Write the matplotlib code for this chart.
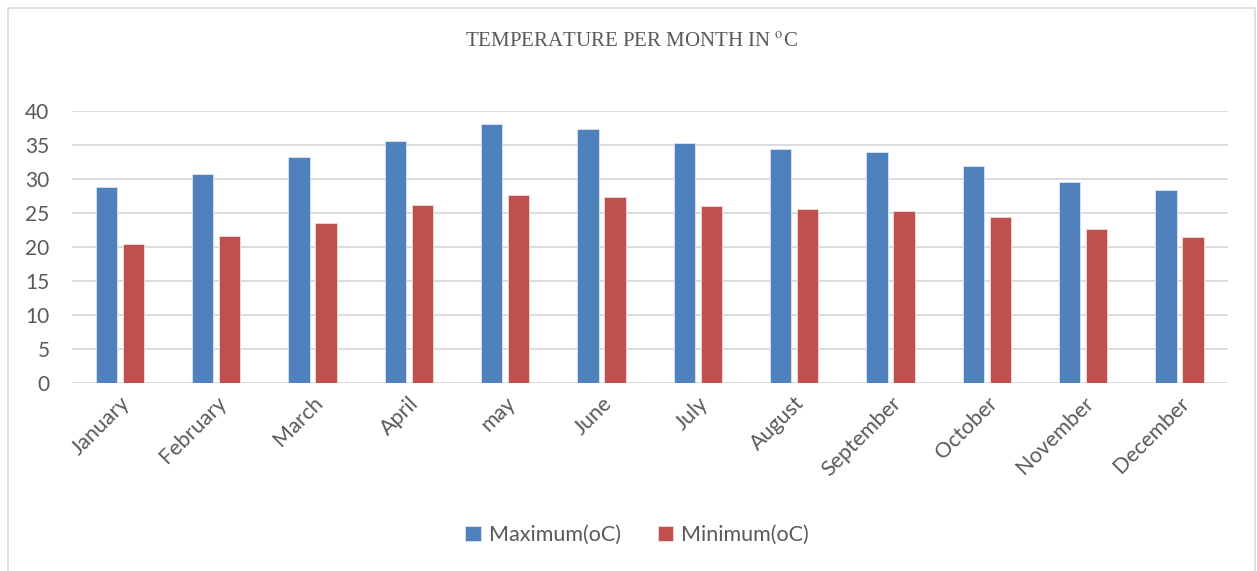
import matplotlib.pyplot as plt
import numpy as np
from matplotlib.patches import Rectangle

# data
months = ['January', 'February', 'March', 'April', 'may', 'June', 'July',
          'August', 'September', 'October', 'November', 'December']
t_max = [28.8, 30.7, 33.2, 35.6, 38.0, 37.3, 35.3, 34.4, 34.0, 31.9, 29.5, 28.4]
t_min = [20.4, 21.6, 23.5, 26.2, 27.7, 27.4, 26.0, 25.6, 25.3, 24.4, 22.7, 21.5]
yticks = [0, 5, 10, 15, 20, 25, 30, 35, 40]

grey = '#595959'
plt.rcParams['mathtext.fontset'] = 'stix'

fig = plt.figure(figsize=(12.57, 5.71), dpi=100)
ax = fig.add_axes([0.057, 0.3287, 0.9197, 0.4773])

x = np.arange(len(months))
w = 0.22
ax.bar(x - 0.14, t_max, w, color='#4F81BD', edgecolor='#dce6f2', linewidth=0.6,
       label='Maximum(oC)', zorder=3)
ax.bar(x + 0.14, t_min, w, color='#C0504D', edgecolor='#f2dcdb', linewidth=0.6,
       label='Minimum(oC)', zorder=3)

ax.set_xlim(-0.5, len(months) - 0.5)
ax.set_ylim(0, 40)
ax.set_yticks(yticks)
ax.set_xticks(x)
ax.set_xticklabels(months, rotation=45, ha='right', rotation_mode='anchor')
ax.tick_params(axis='x', length=0, labelsize=15.5, colors=grey, pad=7)
ax.tick_params(axis='y', length=0, labelsize=15, colors=grey, pad=16)
for lab in ax.get_xticklabels() + ax.get_yticklabels():
    lab.set_family('Lato')
ax.grid(axis='y', color='#d9d9d9', linewidth=1.3, zorder=0)
for s in ax.spines.values():
    s.set_visible(False)

fig.text(0.502, 0.926, r'TEMPERATURE PER MONTH IN $^{\mathrm{o}}$C', ha='center', va='center',
         fontsize=15, color=grey, family='Liberation Serif')

leg = fig.legend(loc='center', bbox_to_anchor=(0.507, 0.063), ncol=2, frameon=False,
                 handlelength=0.7, handleheight=0.7, handletextpad=0.4, columnspacing=1.7,
                 prop={'family': 'Lato', 'size': 15.5})
for t in leg.get_texts():
    t.set_color(grey)

fig.patches.append(Rectangle((8 / 1257, -0.01), 1247 / 1257, 1 - 8 / 571 + 0.01,
                             transform=fig.transFigure, fill=False,
                             edgecolor='#d9d9d9', linewidth=1.2))

fig.savefig('out.png', dpi=100)
